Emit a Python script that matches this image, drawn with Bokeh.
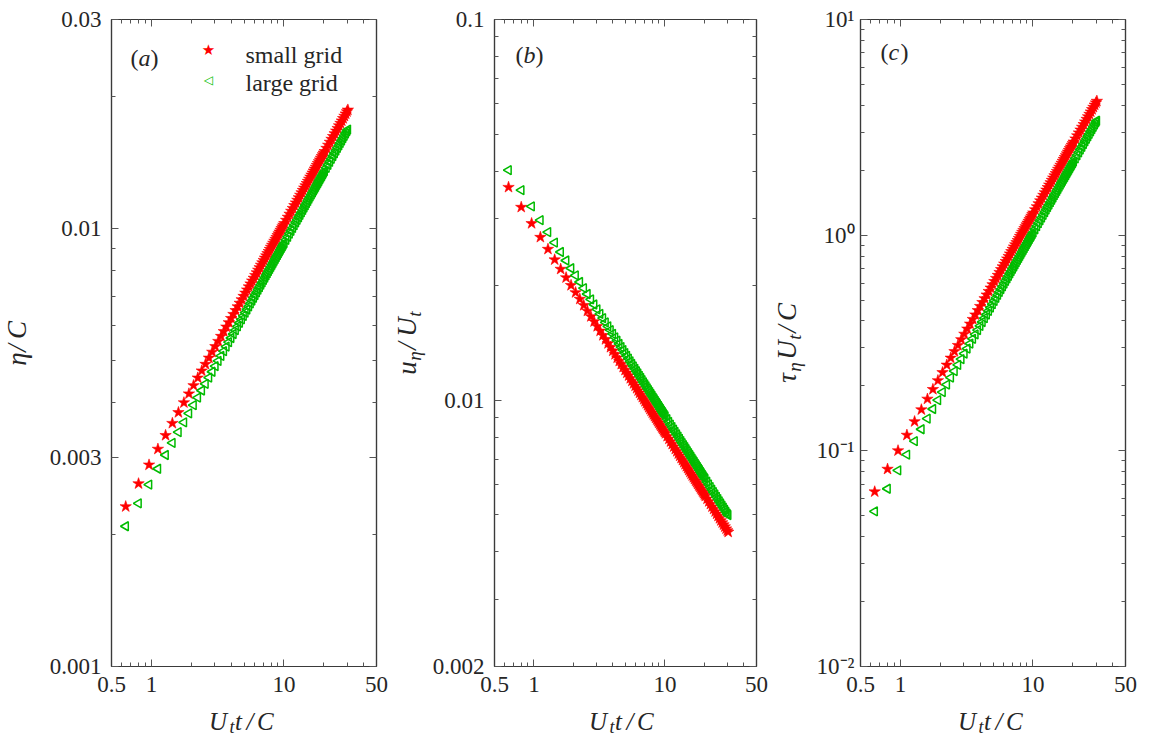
import math
from bokeh.plotting import figure
from bokeh.models import (Range1d, LogAxis, FixedTicker, CustomJSTickFormatter,
                          Label, ColumnDataSource)
from bokeh.layouts import row, column
from bokeh.embed import file_html
from bokeh.resources import INLINE
from bokeh.core.validation import silence
from bokeh.core.validation.warnings import MISSING_RENDERERS

silence(MISSING_RENDERERS, True)

# ---------------- data ----------------
t = [0.64, 0.80, 0.96, 1.12, 1.28, 1.44, 1.60, 1.76, 1.92, 2.08, 2.24, 2.40, 2.56, 2.72,
     2.88, 3.04, 3.20, 3.36, 3.52, 3.68, 3.84, 4.00, 4.16, 4.32, 4.48, 4.64, 4.80, 4.96,
     5.12, 5.28, 5.44, 5.60, 5.76, 5.92, 6.08, 6.24, 6.40, 6.56, 6.72, 6.88, 7.04, 7.20,
     7.36, 7.52, 7.68, 7.84, 8.00, 8.16, 8.32, 8.48, 8.64, 8.80, 8.96, 9.12, 9.28, 9.44,
     9.60, 9.76, 9.92, 10.08,
     10.40, 10.72, 11.04, 11.36, 11.68, 12.00, 12.32, 12.64, 12.96, 13.28, 13.60, 13.92,
     14.24, 14.56, 14.88, 15.20, 15.52, 15.84, 16.16, 16.48, 16.80, 17.12, 17.44, 17.76,
     18.08, 18.40, 18.72, 19.04, 19.36, 19.68, 20.00, 20.32,
     20.96, 21.60, 22.24, 22.88, 23.52, 24.16, 24.80, 25.44, 26.08, 26.72, 27.36, 28.00,
     28.64, 29.28, 29.92, 30.40]

eta_small = [0.002318, 0.002615, 0.002886, 0.003136, 0.003371, 0.003592, 0.003802, 0.004003,
             0.004195, 0.004381, 0.004560, 0.004733, 0.004900, 0.005064, 0.005223, 0.005378,
             0.005528, 0.005676, 0.005820, 0.005961, 0.006100, 0.006236, 0.006370, 0.006501,
             0.006630, 0.006756, 0.006881, 0.007004,
             0.007125, 0.007244, 0.007363, 0.007479, 0.007594, 0.007706, 0.007819, 0.007929,
             0.008038, 0.008146, 0.008253, 0.008358, 0.008463, 0.008565, 0.008668, 0.008769,
             0.008869, 0.008968, 0.009067, 0.009164, 0.009262, 0.009357, 0.009452, 0.009546,
             0.009640, 0.009731, 0.009824, 0.009915, 0.010006, 0.010094, 0.010184, 0.010272,
             0.010448, 0.010620, 0.010791, 0.010958, 0.011123, 0.011288, 0.011448, 0.011608,
             0.011766, 0.011922, 0.012076, 0.012228, 0.012380, 0.012530, 0.012677, 0.012823,
             0.012968, 0.013113, 0.013255, 0.013397, 0.013538, 0.013675, 0.013812, 0.013948,
             0.014083, 0.014218, 0.014351, 0.014484, 0.014613, 0.014744, 0.014872, 0.015000,
             0.015254, 0.015505, 0.015750, 0.015995, 0.016233, 0.016471, 0.016704, 0.016937,
             0.017167, 0.017391, 0.017614, 0.017839, 0.018054, 0.018274, 0.018485, 0.018649]
eta_large = [0.002090, 0.002358, 0.002602, 0.002828, 0.003040, 0.003239, 0.003428, 0.003609,
             0.003783, 0.003950, 0.004111, 0.004267, 0.004419, 0.004566, 0.004709, 0.004849,
             0.004985, 0.005118, 0.005248, 0.005375, 0.005500, 0.005623, 0.005743, 0.005862,
             0.005978, 0.006092, 0.006204, 0.006316,
             0.006425, 0.006532, 0.006639, 0.006744, 0.006847, 0.006948, 0.007050, 0.007149,
             0.007248, 0.007345, 0.007441, 0.007537, 0.007631, 0.007723, 0.007816, 0.007907,
             0.007998, 0.008087, 0.008176, 0.008264, 0.008351, 0.008437, 0.008523, 0.008607,
             0.008692, 0.008775, 0.008859, 0.008940, 0.009022, 0.009102, 0.009183, 0.009263,
             0.009421, 0.009576, 0.009731, 0.009881, 0.010030, 0.010178, 0.010323, 0.010467,
             0.010609, 0.010750, 0.010889, 0.011026, 0.011163, 0.011299, 0.011431, 0.011562,
             0.011694, 0.011824, 0.011952, 0.012080, 0.012207, 0.012330, 0.012454, 0.012577,
             0.012699, 0.012820, 0.012940, 0.013060, 0.013177, 0.013294, 0.013410, 0.013526,
             0.013754, 0.013981, 0.014202, 0.014423, 0.014637, 0.014852, 0.015062, 0.015272,
             0.015479, 0.015682, 0.015882, 0.016086, 0.016279, 0.016478, 0.016668, 0.016816]

u_small = [0.03627, 0.03215, 0.02914, 0.02681, 0.02494, 0.02340, 0.02211, 0.02100,
           0.02004, 0.01919, 0.01844, 0.01776, 0.01716, 0.01660, 0.01610, 0.01564,
           0.01521, 0.01481, 0.01445, 0.01410, 0.01378, 0.01348, 0.01320, 0.01293,
           0.01268, 0.01244, 0.01222, 0.01200,
           0.011799, 0.011610, 0.011419, 0.011240, 0.011072, 0.010910, 0.010753, 0.010600,
           0.010460, 0.010320, 0.010188, 0.010060, 0.009935, 0.009815, 0.009699, 0.009587,
           0.009479, 0.009374, 0.009272, 0.009174, 0.009078, 0.008986, 0.008895, 0.008807,
           0.008722, 0.008638, 0.008558, 0.008479, 0.008403, 0.008328, 0.008256, 0.008185,
           0.008047, 0.007917, 0.007791, 0.007672, 0.007558, 0.007447, 0.007344, 0.007242,
           0.007146, 0.007051, 0.006962, 0.006874, 0.006791, 0.006709, 0.006632, 0.006558,
           0.006483, 0.006413, 0.006343, 0.006276, 0.006210, 0.006147, 0.006087, 0.006028,
           0.005970, 0.005914, 0.005859, 0.005805, 0.005753, 0.005703, 0.005653, 0.005606,
           0.005512, 0.005424, 0.005338, 0.005255, 0.005179, 0.005104, 0.005033, 0.004965,
           0.004897, 0.004834, 0.004773, 0.004714, 0.004657, 0.004600, 0.004548, 0.004509]
u_large = [0.04022, 0.03564, 0.03230, 0.02972, 0.02765, 0.02595, 0.02452, 0.02329,
           0.02222, 0.02128, 0.02045, 0.01970, 0.01902, 0.01841, 0.01785, 0.01734,
           0.01686, 0.01643, 0.01602, 0.01564, 0.01528, 0.01495, 0.01463, 0.01434,
           0.01406, 0.01380, 0.01355, 0.01331,
           0.013083, 0.012870, 0.012661, 0.012460, 0.012276, 0.012100, 0.011923, 0.011760,
           0.011597, 0.011450, 0.011296, 0.011150, 0.011015, 0.010880, 0.010754, 0.010630,
           0.010510, 0.010390, 0.010281, 0.010170, 0.010065, 0.009963, 0.009862, 0.009764,
           0.009670, 0.009578, 0.009489, 0.009401, 0.009317, 0.009234, 0.009154, 0.009076,
           0.008922, 0.008778, 0.008638, 0.008507, 0.008381, 0.008257, 0.008143, 0.008030,
           0.007923, 0.007818, 0.007719, 0.007622, 0.007530, 0.007439, 0.007354, 0.007271,
           0.007188, 0.007110, 0.007033, 0.006958, 0.006886, 0.006816, 0.006749, 0.006683,
           0.006619, 0.006557, 0.006496, 0.006437, 0.006379, 0.006323, 0.006268, 0.006216,
           0.006111, 0.006013, 0.005919, 0.005827, 0.005743, 0.005660, 0.005581, 0.005505,
           0.005430, 0.005359, 0.005292, 0.005227, 0.005163, 0.005100, 0.005043, 0.004999]

tau_small = [0.06463, 0.08228, 0.1002, 0.1183, 0.1367, 0.1552, 0.1739, 0.1928,
             0.2118, 0.2309, 0.2501, 0.2695, 0.2889, 0.3085, 0.3282, 0.3479,
             0.3677, 0.3876, 0.4075, 0.4275, 0.4476, 0.4679, 0.4881, 0.5085,
             0.5288, 0.5492, 0.5696, 0.5902,
             0.6108, 0.6314, 0.6522, 0.6729, 0.6937, 0.7144, 0.7355, 0.7563,
             0.7773, 0.7983, 0.8194, 0.8405, 0.8616, 0.8827, 0.9040, 0.9251,
             0.9464, 0.9677, 0.9892, 1.0105, 1.0320, 1.0533, 1.0750, 1.0963,
             1.1181, 1.1393, 1.1612, 1.1827, 1.2045, 1.2258, 1.2477, 1.2696,
             1.3134, 1.3569, 1.4011, 1.4447, 1.4886, 1.5329, 1.5769, 1.6211,
             1.6656, 1.7102, 1.7546, 1.7991, 1.8440, 1.8890, 1.9334, 1.9783,
             2.0234, 2.0689, 2.1138, 2.1592, 2.2050, 2.2498, 2.2951, 2.3408,
             2.3861, 2.4320, 2.4776, 2.5239, 2.5691, 2.6152, 2.6612, 2.7071,
             2.7993, 2.8924, 2.9845, 3.0780, 3.1703, 3.2639, 3.3570, 3.4510,
             3.5456, 3.6390, 3.7325, 3.8288, 3.9214, 4.0178, 4.1110, 4.1842]
tau_large = [0.05241, 0.06672, 0.08124, 0.09595, 0.1109, 0.1259, 0.1410, 0.1563,
             0.1717, 0.1872, 0.2028, 0.2185, 0.2343, 0.2502, 0.2661, 0.2821,
             0.2981, 0.3143, 0.3305, 0.3467, 0.3630, 0.3794, 0.3958, 0.4123,
             0.4288, 0.4453, 0.4619, 0.4786,
             0.4953, 0.5120, 0.5289, 0.5457, 0.5626, 0.5793, 0.5964, 0.6133,
             0.6303, 0.6473, 0.6644, 0.6815, 0.6987, 0.7157, 0.7330, 0.7502,
             0.7675, 0.7847, 0.8021, 0.8194, 0.8368, 0.8541, 0.8717, 0.8890,
             0.9066, 0.9239, 0.9416, 0.9590, 0.9767, 0.9940, 1.0118, 1.0295,
             1.0650, 1.1003, 1.1361, 1.1715, 1.2071, 1.2430, 1.2787, 1.3145,
             1.3506, 1.3868, 1.4228, 1.4588, 1.4953, 1.5318, 1.5678, 1.6042,
             1.6408, 1.6776, 1.7140, 1.7509, 1.7880, 1.8243, 1.8611, 1.8981,
             1.9349, 1.9721, 2.0091, 2.0466, 2.0833, 2.1206, 2.1579, 2.1952,
             2.2699, 2.3454, 2.4201, 2.4959, 2.5708, 2.6467, 2.7221, 2.7984,
             2.8751, 2.9508, 3.0266, 3.1047, 3.1798, 3.2580, 3.3336, 3.3929]

for _arr in (eta_small, eta_large, u_small, u_large, tau_small, tau_large):
    assert len(_arr) == len(t), (len(_arr), len(t))

series_names = ["small grid", "large grid"]

x_ticks = [0.5, 1, 10, 50]
x_tick_labels = ["0.5", "1", "10", "50"]
x_minor = [0.6, 0.7, 0.8, 0.9, 2, 3, 4, 5, 6, 7, 8, 9, 20, 30, 40]

ya_ticks = [0.001, 0.003, 0.01, 0.03]
ya_labels = ["0.001", "0.003", "0.01", "0.03"]
ya_minor = [0.002, 0.004, 0.005, 0.006, 0.007, 0.008, 0.009, 0.02]

yb_ticks = [0.002, 0.01, 0.1]
yb_labels = ["0.002", "0.01", "0.1"]
yb_minor = [0.003, 0.004, 0.005, 0.006, 0.007, 0.008, 0.009,
            0.02, 0.03, 0.04, 0.05, 0.06, 0.07, 0.08, 0.09]

yc_ticks = [0.01, 0.1, 1, 10]
yc_labels = ["10\u207b\u00b2", "10\u207b\u00b9", "10\u2070", "10\u00b9"]
yc_minor = [0.02, 0.03, 0.04, 0.05, 0.06, 0.07, 0.08, 0.09,
            0.2, 0.3, 0.4, 0.5, 0.6, 0.7, 0.8, 0.9,
            2, 3, 4, 5, 6, 7, 8, 9]

# ---------------- style / geometry ----------------
FONT = "Liberation Serif"
TXT = "#262626"
AXC = "#3a3a3a"
TKC = "#555555"
RED = "#FF0000"
GREEN = "#00BB00"
CODE = ("const i = vals.findIndex(v => Math.abs(Math.log10(v) - Math.log10(tick)) < 1e-6);"
        "return i >= 0 ? labs[i] : '';")
TOP = 19
FH = 647
BOTTOM = 36
HM = TOP + FH + BOTTOM      # main figure height (702)
HX = 38                     # x-label strip height (total 740)
FW = 265


def style_axis(ax, ticks, minor, labels, show, standoff):
    ax.ticker = FixedTicker(ticks=ticks, minor_ticks=minor)
    ax.formatter = CustomJSTickFormatter(
        args=dict(vals=ticks, labs=(labels if show else [""] * len(ticks))), code=CODE)
    ax.axis_line_color = AXC
    ax.axis_line_width = 1.2
    ax.major_tick_line_color = TKC
    ax.minor_tick_line_color = TKC
    ax.major_tick_in = 7
    ax.major_tick_out = 0
    ax.minor_tick_in = 4
    ax.minor_tick_out = 0
    ax.major_label_text_font = FONT
    ax.major_label_text_font_size = "23px" if show else "0px"
    ax.major_label_text_color = TXT
    ax.major_label_standoff = standoff if show else 0
    ax.axis_label = None


def add_text(p, x, y, text, size, italic=True, angle=0.0, font=FONT, color=TXT,
             align="left", baseline="alphabetic"):
    p.add_layout(Label(x=x, y=y, x_units="screen", y_units="screen", text=text,
                       angle=angle, text_font=font, text_font_size=f"{size}px",
                       text_font_style="italic" if italic else "normal",
                       text_color=color, text_align=align, text_baseline=baseline))


def strip_fig(w, h):
    f = figure(width=w, height=h, x_range=Range1d(0, 1), y_range=Range1d(0, 1),
               x_axis_location=None, y_axis_location=None, toolbar_location=None,
               output_backend="svg", min_border=0)
    f.title.visible = False
    f.outline_line_color = None
    f.grid.grid_line_color = None
    f.background_fill_color = "white"
    f.border_fill_color = "white"
    return f


def main_fig(width, bl, br, yr, yt, ylabs, yminor, ystand, small, large):
    p = figure(width=width, height=HM, x_axis_type="log", y_axis_type="log",
               x_range=Range1d(0.5, 50), y_range=Range1d(*yr),
               output_backend="svg", toolbar_location=None,
               min_border_left=bl, min_border_right=br,
               min_border_top=TOP, min_border_bottom=BOTTOM)
    p.title.visible = False
    p.background_fill_color = "white"
    p.border_fill_color = "white"
    p.outline_line_color = AXC
    p.outline_line_width = 1.2
    p.xgrid.visible = False
    p.ygrid.visible = False
    style_axis(p.xaxis[0], x_ticks, x_minor, x_tick_labels, True, 10)
    style_axis(p.yaxis[0], yt, yminor, ylabs, True, ystand)
    top = LogAxis()
    style_axis(top, x_ticks, x_minor, x_tick_labels, False, 0)
    p.add_layout(top, "above")
    right = LogAxis()
    style_axis(right, yt, yminor, ylabs, False, 0)
    p.add_layout(right, "right")

    src_s = ColumnDataSource(dict(x=t, y=small))
    src_l = ColumnDataSource(dict(x=t, y=large))
    p.scatter("x", "y", source=src_s, marker="star", size=12,
              fill_color=RED, line_color=RED, line_width=0.6)
    p.scatter("x", "y", source=src_l, marker="triangle", size=9, angle=math.pi / 2,
              fill_color=None, line_color=GREEN, line_width=1.5)
    return p


def add_tag(p, x, y, letter):
    add_text(p, x, y, "(", 24, italic=False)
    add_text(p, x + 8, y, letter, 24)
    add_text(p, x + 20, y, ")", 24, italic=False)


def build_panel(total_w, bl_total, br, wy, ybase, ypieces, yr, yt, ylabs, yminor, ystand,
                small, large, tag, tag_xy):
    p = main_fig(total_w - wy, bl_total - wy, br, yr, yt, ylabs, yminor, ystand, small, large)
    add_tag(p, tag_xy[0], tag_xy[1], tag)
    # rotated y-axis label; the strip's frame is aligned with the main frame
    fy = strip_fig(wy, HM)
    cy = FH / 2
    for txt, size, dc, sub in ypieces:
        mid = 9 if size > 20 else 6
        add_text(fy, ybase + sub - mid, cy + dc, txt, size, angle=math.pi / 2,
                 align="center", baseline="middle")
    # x-axis label  U_t t / C
    fx = strip_fig(total_w, HX)
    cx = bl_total + FW / 2
    yb = 19
    add_text(fx, cx - 35, yb, "U", 25)
    add_text(fx, cx - 14.5, yb - 5, "t", 18)
    add_text(fx, cx - 9, yb, "t", 25)
    add_text(fx, cx + 2.5, yb, "/", 25)
    add_text(fx, cx + 13, yb, "C", 25)
    return p, column(row(fy, p), fx)


pa, col_a = build_panel(388, 111, 12, 40, 25,
                        [("\u03b7", 27, -16, 0), ("/", 27, -5, 0), ("C", 27, 13, 0)],
                        (0.001, 0.03), ya_ticks, ya_labels, ya_minor, 10,
                        eta_small, eta_large, "a", (19, 609))
pb, col_b = build_panel(382, 103, 14, 41, 27,
                        [("u", 27, -25, 0), ("\u03b7", 19, -13, 5), ("/", 27, -3, 0),
                         ("U", 27, 16, 0), ("t", 19, 29, 5)],
                        (0.002, 0.1), yb_ticks, yb_labels, yb_minor, 10,
                        u_small, u_large, "b", (21, 612))
pc, col_c = build_panel(380, 90, 25, 40, 25,
                        [("\u03c4", 27, -35, 0), ("\u03b7", 19, -24, 5), ("U", 27, -7, 0),
                         ("t", 19, 6, 5), ("/", 27, 14, 0), ("C", 27, 31, 0)],
                        (0.01, 10), yc_ticks, yc_labels, yc_minor, 6,
                        tau_small, tau_large, "c", (20, 615))

# legend of panel (a)
add_text(pa, 97, 617, "\u2605", 15, italic=False, font="DejaVu Sans", color=RED,
         align="center", baseline="middle")
add_text(pa, 97, 587, "\u25c1", 12, italic=False, font="DejaVu Sans", color=GREEN,
         align="center", baseline="middle")
add_text(pa, 134, 612, series_names[0], 24, italic=False)
add_text(pa, 134, 584, series_names[1], 24, italic=False)

layout = row(col_a, col_b, col_c)
open("out.html", "w").write(file_html(layout, INLINE))
